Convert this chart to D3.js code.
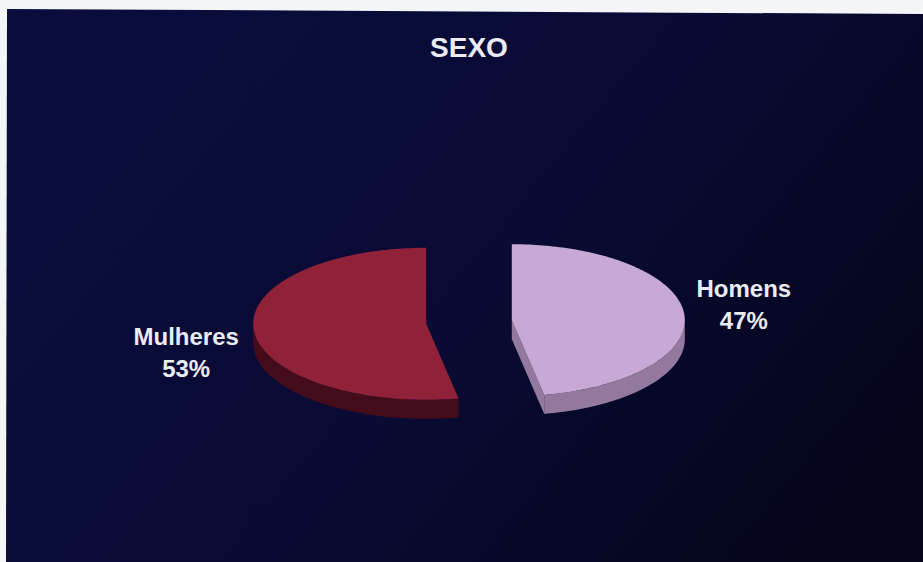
<!DOCTYPE html>
<html>
<head>
<meta charset="utf-8">
<script src="https://cdn.jsdelivr.net/npm/d3@7/dist/d3.min.js"></script>
<style>
  html, body { margin: 0; padding: 0; background: #f4f5f7; }
  svg { display: block; }
</style>
</head>
<body>
<script>
// Data
const title = "SEXO";
const categories = ["Homens", "Mulheres"];
const values = [47, 53];
const topColors = ["#c8a8d5", "#8f2139"];
const sideColors = ["#94799f", "#440c1a"];
const labelColor = "#ebebf3";

const W = 923, H = 562;
const svg = d3.select("body").append("svg").attr("width", W).attr("height", H);

// Backdrop panel
const defs = svg.append("defs");
const bg = defs.append("linearGradient").attr("id", "bg")
  .attr("gradientUnits", "userSpaceOnUse")
  .attr("x1", 150).attr("y1", 0).attr("x2", 820).attr("y2", 562);
bg.append("stop").attr("offset", 0).attr("stop-color", "#0a0c3c");
bg.append("stop").attr("offset", 0.5).attr("stop-color", "#090b34");
bg.append("stop").attr("offset", 1).attr("stop-color", "#04051a");

svg.append("path")
  .attr("d", d3.line()([[7, 9], [W, 14], [W, H], [6, H]]) + "Z")
  .attr("fill", "url(#bg)");

// Title
svg.append("text")
  .attr("x", 469).attr("y", 57)
  .attr("text-anchor", "middle")
  .attr("font-family", "Liberation Sans, Arial, sans-serif")
  .attr("font-weight", "bold")
  .attr("font-size", 28)
  .attr("fill", labelColor)
  .text(title);

// 3D pie geometry
const cx0 = 469, cy0 = 322;
const rx = 173, ry = 76, depth = 19, explode = 43;

const pie = d3.pie().sort(null).startAngle(0).endAngle(2 * Math.PI);
const arcs = pie(values);

// angle measured clockwise from 12 o'clock
const pt = (c, a, r = 1, dy = 0) => [c[0] + rx * r * Math.sin(a), c[1] - ry * r * Math.cos(a) + dy];
const line = d3.line();

function rimPoints(c, a0, a1, dy) {
  const n = Math.max(2, Math.ceil((a1 - a0) / 0.02));
  return d3.range(n + 1).map(i => pt(c, a0 + (a1 - a0) * i / n, 1, dy));
}

const g = svg.append("g");

arcs.forEach((d, i) => {
  const mid = (d.startAngle + d.endAngle) / 2;
  const c = [cx0 + explode * Math.sin(mid), cy0 - explode * (ry / rx) * Math.cos(mid)];
  d.center = c;
  const a0 = d.startAngle, a1 = d.endAngle;

  // radial cut faces, drawn where they turn toward the viewer
  [[a0, a0 - Math.PI / 2], [a1, a1 + Math.PI / 2]].forEach(([a, n]) => {
    if (Math.cos(n) < -1e-6) {
      const p = pt(c, a);
      g.append("path")
        .attr("d", line([c, p, [p[0], p[1] + depth], [c[0], c[1] + depth]]) + "Z")
        .attr("fill", sideColors[i]);
    }
  });

  // outer rim, only the front half shows
  const s0 = Math.max(a0, Math.PI / 2), s1 = Math.min(a1, 3 * Math.PI / 2);
  if (s1 > s0) {
    const topEdge = rimPoints(c, s0, s1, 0);
    const botEdge = rimPoints(c, s0, s1, depth).reverse();
    g.append("path")
      .attr("d", line(topEdge.concat(botEdge)) + "Z")
      .attr("fill", sideColors[i]);
  }

  // top face
  g.append("path")
    .attr("d", line([c].concat(rimPoints(c, a0, a1, 0))) + "Z")
    .attr("fill", topColors[i]);
});

// Category labels beside each slice
const labelLayout = [
  { dx: 232, y: 297 },
  { dx: -240, y: 345 }
];
arcs.forEach((d, i) => {
  const t = svg.append("text")
    .attr("text-anchor", "middle")
    .attr("font-family", "Liberation Sans, Arial, sans-serif")
    .attr("font-weight", "bold")
    .attr("font-size", 24)
    .attr("fill", labelColor);
  const x = d.center[0] + labelLayout[i].dx;
  t.append("tspan").attr("x", x).attr("y", labelLayout[i].y).text(categories[i]);
  t.append("tspan").attr("x", x).attr("y", labelLayout[i].y + 32).text(values[i] + "%");
});
</script>
</body>
</html>
